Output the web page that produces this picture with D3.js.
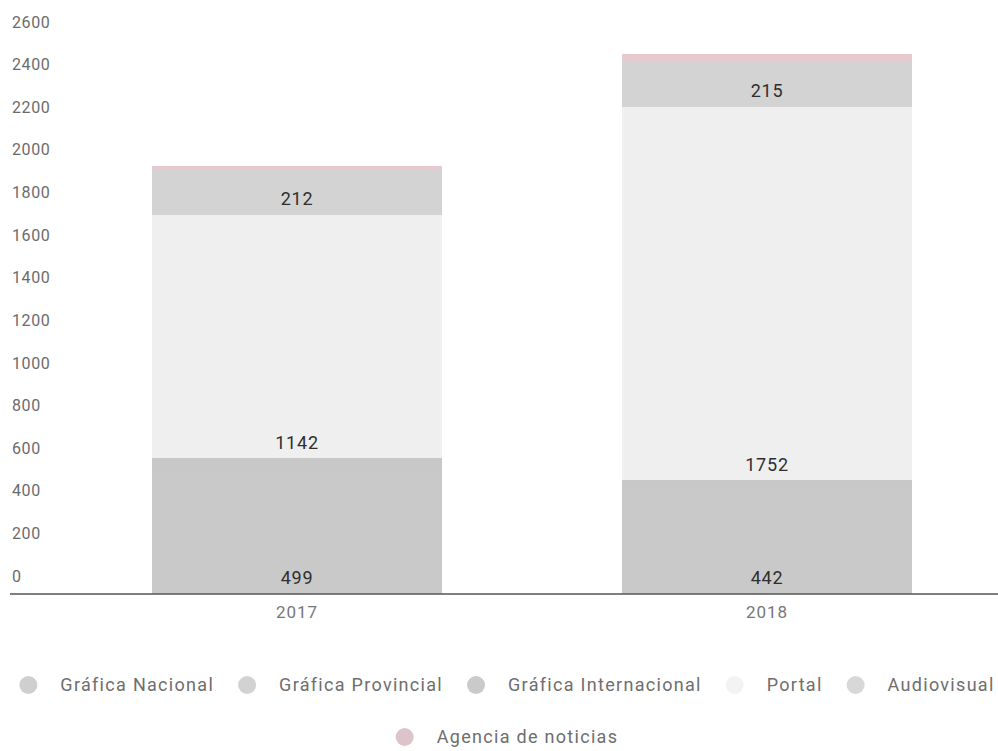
<!DOCTYPE html>
<html>
<head>
<meta charset="utf-8">
<script src="https://cdn.jsdelivr.net/npm/d3@7"></script>
<style>
  html, body { margin: 0; padding: 0; background: #fff; }
  svg { display: block; font-family: Roboto, "Noto Sans", sans-serif; }
</style>
</head>
<body>
<svg id="chart" width="998" height="751"></svg>
<script>
// ---- data ----
const years = ["2017", "2018"];
const seriesNames = ["Gráfica Nacional", "Gráfica Provincial", "Gráfica Internacional", "Portal", "Audiovisual", "Agencia de noticias"];
const graficaNacional = [499, 442];
const graficaProvincial = [75, 52];
const graficaInternacional = [62, 40];
const portal = [1142, 1752];
const audiovisual = [212, 215];
const agenciaNoticias = [18, 32];
const yTicks = [0, 200, 400, 600, 800, 1000, 1200, 1400, 1600, 1800, 2000, 2200, 2400, 2600];

const barColors = ["#c9c9c9", "#c9c9c9", "#c8c8c8", "#efefef", "#d3d3d3", "#e6cacf"];
const legendColors = ["#cfcfcf", "#d2d2d2", "#cacaca", "#f3f3f3", "#d8d8d8", "#dcc4ca"];

const seriesValues = [graficaNacional, graficaProvincial, graficaInternacional, portal, audiovisual, agenciaNoticias];
const rows = years.map((yr, i) => {
  const r = { year: yr };
  seriesNames.forEach((s, j) => r[s] = seriesValues[j][i]);
  return r;
});

const svg = d3.select("#chart");

const x = d3.scaleBand().domain(years).range([62, 1002]).paddingInner(0.381).paddingOuter(0.1905);
const y = d3.scaleLinear().domain([0, 2600]).range([594, 40]);

// y labels (sit above their value line)
svg.append("g").selectAll("text").data(yTicks).join("text")
  .attr("x", 12)
  .attr("y", d => y(d) - 18)
  .attr("dy", "0.35em")
  .attr("font-size", 16)
  .attr("fill", "#6b6b6b")
  .attr("letter-spacing", "0.6px")
  .text(d => d);

const stack = d3.stack().keys(seriesNames)(rows);

const layers = svg.append("g").attr("shape-rendering", "crispEdges").selectAll("g").data(stack).join("g")
  .attr("fill", (d, i) => barColors[i]);

layers.selectAll("rect").data(d => d).join("rect")
  .attr("x", d => x(d.data.year))
  .attr("width", x.bandwidth())
  .attr("y", d => y(d[1]))
  .attr("height", d => y(d[0]) - y(d[1]));

// value labels at inside base of segments
const labelG = svg.append("g");
stack.forEach(layer => {
  layer.forEach(d => {
    const h = y(d[0]) - y(d[1]);
    if (h >= 30) {
      labelG.append("text")
        .attr("x", x(d.data.year) + x.bandwidth() / 2)
        .attr("y", y(d[0]) - 16)
        .attr("dy", "0.35em")
        .attr("text-anchor", "middle")
        .attr("font-size", 18)
        .attr("letter-spacing", "0.8px")
        .attr("fill", "#2e2e2e")
        .text(d.data[layer.key]);
    }
  });
});

// x axis
const xAxis = svg.append("g").attr("transform", `translate(0,${y(0)})`)
  .call(d3.axisBottom(x).tickSize(0).tickPadding(12));
xAxis.select(".domain").remove();
xAxis.append("line").attr("x1", 10).attr("x2", 998).attr("y1", 0).attr("y2", 0)
  .attr("stroke", "#555").attr("stroke-width", 1.6);
xAxis.selectAll(".tick text")
  .attr("font-size", 17)
  .attr("font-family", "Roboto, sans-serif")
  .attr("letter-spacing", "1px")
  .attr("fill", "#777");

// legend
const legendRows = [[0, 1, 2, 3, 4], [5]];
const legendY = [685, 737];
const legend = svg.append("g");
legendRows.forEach((idxs, ri) => {
  const items = idxs.map(i => {
    const g = legend.append("g");
    g.append("circle").attr("r", 9).attr("cx", 9).attr("cy", 0).attr("fill", legendColors[i]);
    const t = g.append("text").attr("x", 41).attr("dy", "0.35em")
      .attr("font-size", 18).attr("letter-spacing", "1.3px").attr("fill", "#6e6e6e")
      .text(seriesNames[i]);
    const w = 41 + t.node().getComputedTextLength();
    return { g, w };
  });
  const gap = 24;
  const total = d3.sum(items, d => d.w) + gap * (items.length - 1);
  let cx = 507 - total / 2;
  items.forEach(it => {
    it.g.attr("transform", `translate(${cx},${legendY[ri]})`);
    cx += it.w + gap;
  });
});
</script>
</body>
</html>
